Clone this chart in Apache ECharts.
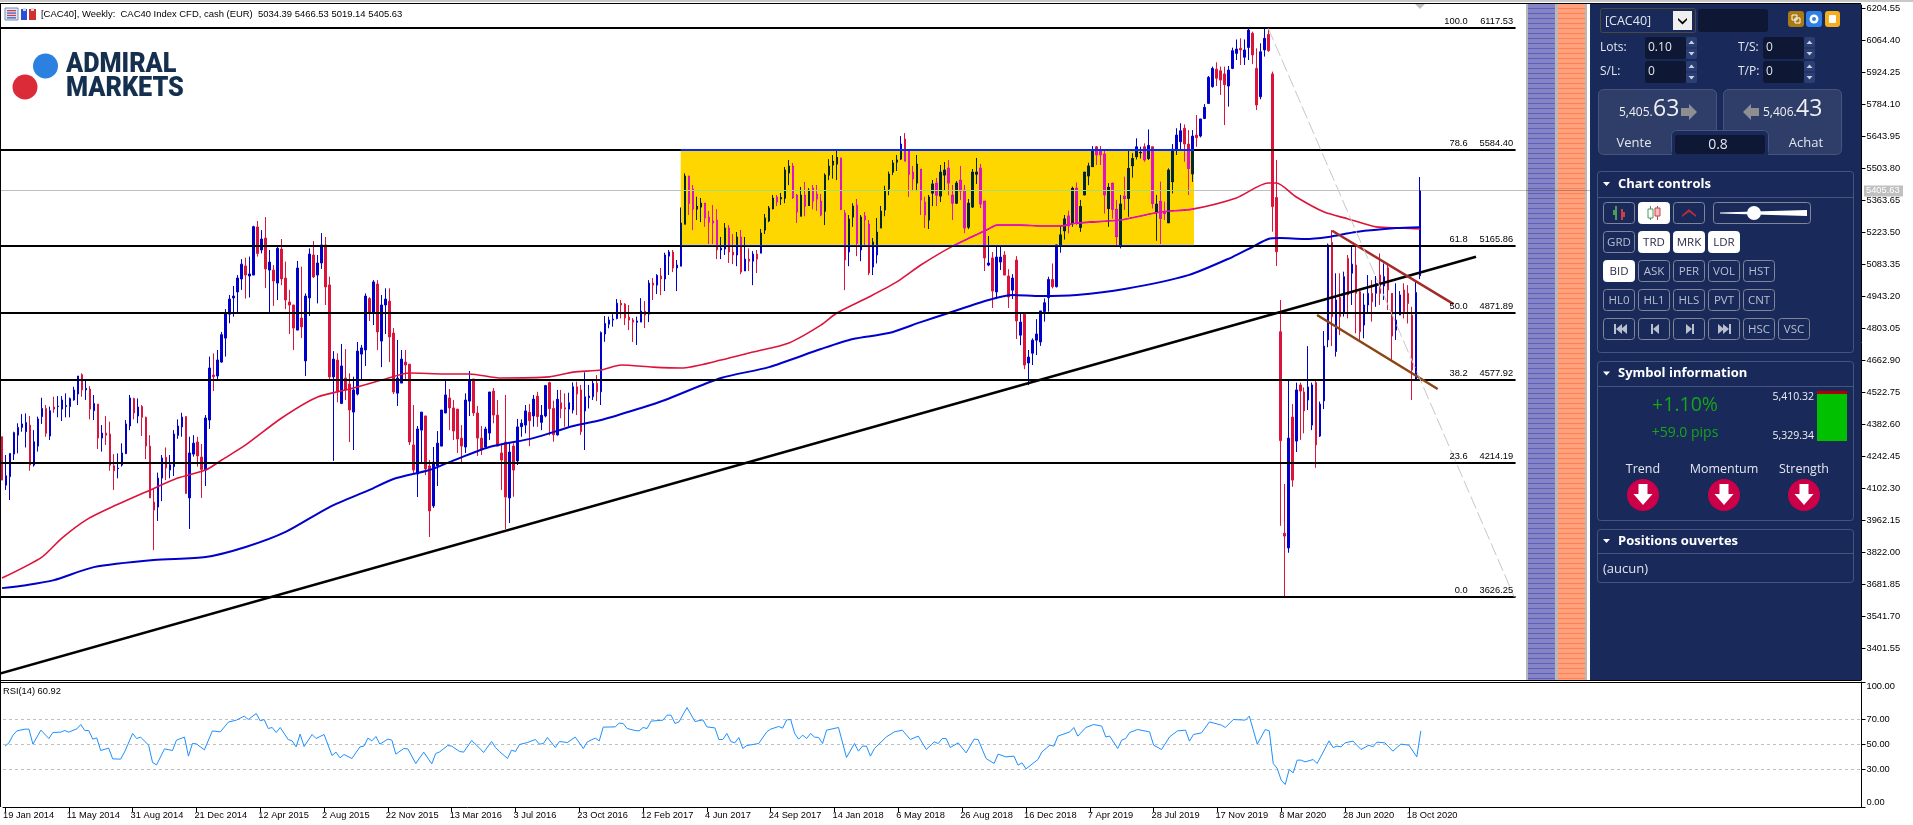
<!DOCTYPE html>
<html><head><meta charset="utf-8"><title>CAC40 Weekly</title>
<style>html,body{margin:0;padding:0;background:#fff;overflow:hidden}#c{width:1913px;height:825px}</style>
<script src="https://cdn.jsdelivr.net/npm/echarts@6/dist/echarts.min.js"></script></head>
<body><div id="c"></div>
<script>
// ---------- DATA ----------
const titleText = '[CAC40], Weekly:  CAC40 Index CFD, cash (EUR)  5034.39 5466.53 5019.14 5405.63';
const rsiTitle = 'RSI(14) 60.92';
const lastPrice = 5405.63;
const priceTicks = [3401.55,3541.70,3681.85,3822.00,3962.15,4102.30,4242.45,4382.60,4522.75,4662.90,4803.05,4943.20,5083.35,5223.50,5363.65,5503.80,5643.95,5784.10,5924.25,6064.40,6204.55];
const rsiTicks = [0,30,50,70,100];
const rsiLevels = [70,50,30];
const fibPct = ['100.0','78.6','61.8','50.0','38.2','23.6','0.0'];
const fibLevels = [6117.53,5584.40,5165.86,4871.89,4577.92,4214.19,3626.25];
const weekTickLabels = ['19 Jan 2014','11 May 2014','31 Aug 2014','21 Dec 2014','12 Apr 2015','2 Aug 2015','22 Nov 2015','13 Mar 2016','3 Jul 2016','23 Oct 2016','12 Feb 2017','4 Jun 2017','24 Sep 2017','14 Jan 2018','6 May 2018','26 Aug 2018','16 Dec 2018','7 Apr 2019','28 Jul 2019','17 Nov 2019','8 Mar 2020','28 Jun 2020','18 Oct 2020'];
// [open, close, low, high], one row per week
const candles = [
[4329,4139,4139,4329],[4117,4158,4096,4249],[4154,4256,4052,4256],[4253,4347,4227,4351],[4336,4370,4256,4388],[4370,4385,4351,4428],[4351,4391,4282,4431],[4380,4205,4180,4420],[4205,4307,4198,4358],[4288,4407,4264,4417],
[4417,4453,4385,4500],[4453,4344,4329,4468],[4332,4443,4315,4461],[4459,4450,4434,4504],[4461,4463,4414,4507],[4450,4490,4398,4507],[4461,4466,4414,4519],[4461,4496,4414,4501],[4490,4534,4487,4548],[4516,4595,4468,4595],
[4601,4534,4504,4607],[4534,4541,4490,4574],[4538,4450,4405,4551],[4443,4475,4402,4512],[4472,4323,4275,4472],[4323,4345,4264,4380],[4345,4336,4293,4420],[4341,4204,4180,4395],[4202,4180,4096,4253],[4189,4192,4147,4256],
[4205,4258,4198,4300],[4255,4385,4253,4402],[4376,4499,4358,4512],[4496,4433,4405,4500],[4420,4459,4388,4497],[4461,4414,4332,4468],[4414,4288,4231,4417],[4288,4061,4061,4336],[4043,4008,3833,4103],[4021,4148,3960,4172],
[4148,4236,4047,4249],[4239,4192,4139,4282],[4183,4206,4147,4249],[4198,4341,4157,4358],[4335,4376,4320,4405],[4372,4415,4329,4434],[4417,4081,4078,4420],[4061,4258,3925,4329],[4253,4301,4242,4336],[4306,4245,4198,4329],
[4240,4186,4061,4297],[4183,4411,4113,4424],[4402,4630,4363,4680],[4599,4592,4529,4694],[4595,4665,4580,4709],[4656,4776,4653,4788],[4761,4869,4680,4888],[4866,4932,4826,4950],[4937,4945,4855,4989],[4963,5024,4875,5037],
[5020,5085,4972,5107],[5077,5037,4934,5113],[5033,5042,4939,5118],[5037,5249,5037,5253],[5248,5132,5118,5274],[5147,5195,5132,5234],[5199,5064,4980,5291],[5059,5094,4875,5147],[5059,5011,4902,5081],[5002,5154,4928,5161],
[5151,5020,4993,5195],[5024,4928,4888,5096],[4919,4906,4779,4972],[4906,4805,4709,4906],[4796,5068,4796,5099],[4849,4810,4761,5074],[4661,4945,4595,4957],[4937,5129,4858,5154],[5125,5029,5024,5186],[5037,5090,4913,5125],
[5090,5169,5064,5221],[5169,4985,4906,5204],[4994,4591,4577,5030],[4591,4669,4223,4704],[4665,4529,4480,4694],[4475,4639,4472,4735],[4586,4534,4490,4713],[4560,4446,4306,4607],[4437,4534,4271,4592],[4516,4704,4510,4744],
[4691,4718,4577,4731],[4709,4945,4639,4957],[4934,4875,4836,4940],[4875,5007,4818,5015],[4998,4788,4709,5015],[4748,4906,4634,4950],[4906,4932,4779,4979],[4923,4766,4656,4979],[4783,4525,4516,4805],[4520,4586,4464,4753],
[4564,4669,4564,4709],[4656,4643,4573,4709],[4647,4306,4293,4647],[4293,4183,4166,4468],[4166,4363,4065,4376],[4358,4437,4218,4437],[4420,4188,4161,4420],[4201,4004,3890,4227],[4026,4218,4017,4284],[4201,4301,4113,4354],
[4288,4446,4288,4446],[4433,4512,4433,4573],[4499,4455,4358,4538],[4455,4354,4315,4490],[4450,4319,4258,4450],[4323,4288,4218,4380],[4284,4490,4258,4519],[4485,4577,4420,4617],[4582,4433,4420,4582],[4433,4323,4245,4464],
[4323,4271,4249,4376],[4284,4363,4280,4373],[4345,4525,4315,4525],[4529,4424,4388,4542],[4424,4288,4288,4490],[4258,4227,4096,4300],[4306,4065,3925,4512],[4061,4262,3951,4306],[4288,4183,4066,4300],[4223,4372,4205,4407],
[4373,4388,4329,4405],[4380,4442,4344,4468],[4436,4399,4288,4472],[4420,4494,4373,4512],[4507,4417,4373,4526],[4392,4423,4358,4468],[4420,4553,4414,4556],[4566,4452,4335,4570],[4453,4338,4307,4487],[4337,4493,4334,4534],
[4478,4452,4410,4534],[4456,4450,4373,4519],[4450,4478,4373,4522],[4446,4548,4431,4567],[4548,4516,4424,4570],[4534,4351,4337,4556],[4442,4504,4271,4611],[4500,4507,4453,4556],[4504,4563,4490,4577],[4563,4526,4485,4599],
[4526,4785,4468,4790],[4779,4825,4745,4858],[4822,4840,4804,4855],[4840,4844,4811,4866],[4847,4914,4843,4932],[4914,4906,4847,4928],[4910,4849,4818,4914],[4853,4840,4796,4906],[4840,4831,4744,4849],[4830,4836,4731,4855],
[4831,4879,4831,4936],[4879,4862,4805,4923],[4866,5002,4831,5015],[5002,4993,4928,5024],[4993,5036,4954,5041],[5033,5020,4949,5068],[5020,5125,4967,5135],[5120,5138,5037,5147],[5138,5068,5050,5147],[5068,5081,4967,5103],
[5076,5265,5076,5333],[5260,5471,5260,5482],[5471,5352,5300,5471],[5414,5326,5234,5431],[5326,5338,5278,5380],[5335,5352,5269,5374],[5352,5287,5249,5352],[5291,5269,5173,5317],[5274,5265,5173,5344],[5278,5147,5107,5325],
[5147,5155,5107,5204],[5151,5243,5125,5265],[5243,5138,5090,5255],[5138,5125,5085,5217],[5125,5204,5076,5225],[5204,5050,5041,5234],[5055,5107,5055,5204],[5107,5098,5055,5154],[5098,5129,4993,5142],[5129,5107,5046,5147],
[5133,5221,5133,5239],[5234,5287,5217,5304],[5274,5331,5269,5339],[5328,5374,5325,5387],[5379,5357,5339,5387],[5371,5376,5344,5396],[5374,5497,5352,5510],[5484,5514,5431,5541],[5514,5377,5371,5528],[5387,5313,5265,5392],
[5295,5387,5295,5423],[5387,5339,5295,5444],[5342,5409,5342,5417],[5418,5361,5325,5431],[5392,5370,5319,5431],[5361,5300,5295,5392],[5317,5475,5256,5482],[5475,5514,5453,5544],[5519,5535,5460,5563],[5523,5552,5453,5585],
[5550,5325,5322,5550],[5309,5103,4971,5322],[5138,5282,5076,5300],[5291,5339,5249,5351],[5344,5176,5120,5370],[5147,5291,5098,5300],[5296,5278,5169,5313],[5260,5046,5037,5278],[5072,5182,5037,5199],[5125,5225,5088,5287],
[5243,5317,5243,5339],[5322,5409,5295,5428],[5414,5479,5387,5490],[5488,5528,5475,5541],[5532,5541,5493,5563],[5545,5611,5541,5646],[5633,5536,5536,5659],[5580,5479,5380,5585],[5488,5458,5405,5515],[5440,5523,5405,5563],
[5501,5366,5300,5501],[5357,5300,5244,5380],[5278,5379,5239,5387],[5396,5436,5339,5453],[5440,5387,5339,5462],[5383,5488,5357,5519],[5475,5497,5409,5532],[5506,5440,5387,5541],[5387,5352,5278,5431],[5352,5440,5348,5449],
[5453,5405,5366,5515],[5409,5243,5221,5431],[5247,5352,5239,5370],[5335,5488,5331,5501],[5479,5488,5436,5550],[5506,5348,5331,5523],[5361,5112,5055,5361],[5081,5090,5076,5208],[5112,4967,4893,5138],[4963,5116,4932,5164],
[5094,5116,5059,5164],[5125,5037,5037,5142],[5033,4941,4893,5063],[4971,5024,4932,5041],[5103,4836,4757,5120],[4774,4831,4730,4869],[4866,4643,4625,4866],[4652,4678,4555,4709],[4695,4752,4643,4760],[4752,4779,4687,4844],
[4744,4880,4727,4880],[4877,4916,4833,4935],[4938,5018,4877,5030],[5018,4986,4979,5088],[4986,5169,4983,5169],[5169,5213,5135,5249],[5231,5283,5193,5300],[5296,5252,5220,5319],[5266,5417,5249,5424],[5417,5264,5256,5442],
[5246,5337,5227,5366],[5388,5488,5388,5488],[5471,5515,5431,5529],[5512,5585,5512,5602],[5599,5563,5519,5602],[5585,5563,5519,5602],[5567,5388,5307,5585],[5329,5421,5249,5439],[5439,5325,5285,5442],[5325,5205,5161,5366],
[5170,5348,5154,5388],[5383,5372,5322,5468],[5373,5504,5293,5585],[5516,5547,5464,5570],[5556,5599,5544,5636],[5572,5574,5548,5599],[5599,5541,5534,5614],[5548,5605,5541,5675],[5599,5351,5329,5599],[5315,5348,5188,5388],
[5360,5285,5173,5446],[5315,5307,5278,5358],[5266,5497,5266,5504],[5446,5588,5395,5611],[5585,5650,5563,5680],[5621,5669,5585,5702],[5680,5611,5534,5697],[5611,5504,5388,5672],[5480,5646,5446,5672],[5650,5639,5599,5738],
[5646,5721,5640,5721],[5723,5772,5720,5786],[5789,5903,5786,5909],[5862,5942,5858,5950],[5939,5899,5865,5969],[5932,5891,5826,5950],[5918,5871,5694,5950],[5865,5935,5775,5953],[5942,6020,5939,6033],[6008,6027,5979,6069],
[6030,6023,5957,6074],[5991,6023,5957,6069],[6034,6110,5979,6119],[6096,6001,5961,6103],[5942,5782,5760,6030],[5818,6015,5807,6052],[6023,6074,5994,6119],[6091,6020,6015,6118],[5918,5337,5227,5928],[5377,5139,5077,5541],
[4789,4312,3939,4928],[3906,3894,3631,4122],[3842,4323,3821,4577],[4415,4139,4110,4472],[4310,4534,4262,4566],[4556,4529,4315,4566],[4525,4442,4344,4545],[4490,4547,4446,4726],[4380,4556,4358,4566],[4566,4293,4193,4575],
[4332,4472,4328,4483],[4486,4726,4450,4792],[4753,5169,4721,5175],[5180,4855,4726,5234],[4702,4928,4680,5045],[4939,4855,4774,5045],[4869,5030,4855,5052],[5110,4950,4847,5125],[5045,5085,4906,5164],[5081,4957,4782,5169],
[4964,4789,4753,4972],[4818,4906,4760,4957],[4906,4957,4869,5037],[4957,4920,4833,5015],[4957,5001,4898,5033],[5037,4957,4906,5132],[4989,5030,4928,5088],[5069,4972,4884,5088],[4957,4770,4658,4957],[4796,4840,4753,5001],
[4862,4950,4862,4967],[4972,4877,4847,5001],[4957,4913,4825,4993],[4862,4621,4490,4898],[4582,4961,4577,5008],[5034.39,5405.63,5019.14,5466.53]
];
// [week index, price]
const maRed = [[0,3710],[10,3802],[15,3885],[21,3964],[27,4017],[36,4087],[44,4148],[51,4183],[55,4227],[61,4293],[70,4411],[79,4503],[87,4538],[96,4582],[102,4608],[111,4604],[117,4604],[125,4586],[137,4591],[143,4612],[150,4621],[155,4643],[163,4634],[170,4630],[180,4665],[188,4700],[197,4740],[205,4818],[209,4871],[217,4941],[224,5007],[230,5081],[238,5164],[247,5239],[249,5256],[255,5256],[260,5252],[265,5252],[269,5265],[280,5278],[290,5313],[298,5326],[309,5375],[317,5440],[319,5440],[324,5379],[331,5313],[337,5283],[344,5248],[350,5243],[355,5239]];
const maBlue = [[0,3666],[6,3679],[13,3701],[23,3758],[38,3789],[51,3802],[61,3846],[71,3912],[82,4021],[92,4096],[98,4144],[107,4183],[112,4218],[122,4284],[133,4323],[143,4376],[150,4402],[160,4455],[166,4490],[180,4586],[192,4634],[205,4713],[213,4757],[222,4783],[230,4831],[237,4871],[247,4928],[253,4950],[260,4945],[269,4950],[281,4976],[297,5037],[308,5116],[313,5160],[317,5195],[320,5199],[326,5195],[332,5204],[339,5226],[349,5243],[355,5247]];
const rsi14 = [[0,48.7],[1,51.3],[2,57.5],[3,60.9],[5,62.3],[6,62.3],[7,50.3],[9,61.5],[11,54.8],[12,59.6],[14,59.9],[15,61.2],[16,59.9],[18,62.5],[19,66],[20,61.2],[21,61.2],[22,54.3],[23,55.3],[24,45.2],[26,47.1],[27,38.5],[29,38.3],[30,44.1],[32,58.8],[33,54.8],[34,55.9],[36,49.5],[37,35.6],[38,33.7],[40,46.5],[42,45.2],[43,53.5],[45,55.9],[46,40.7],[47,50.8],[48,50.5],[50,45.7],[52,60.9],[54,60.1],[56,67.9],[58,69.5],[60,72.7],[61,70],[63,74.8],[64,68.9],[65,70],[66,62.8],[67,63.6],[68,59.6],[69,63.6],[71,54],[72,52.9],[73,48.1],[74,58.3],[75,48.4],[77,58],[78,54.8],[80,58],[82,41.2],[83,43.9],[84,39.3],[85,42],[87,38.8],[89,48.1],[90,48.7],[91,55.1],[92,52.9],[93,56.4],[94,50.3],[96,54.3],[97,53.5],[98,42.3],[100,46.8],[101,46.5],[103,34.8],[105,43.9],[107,34.5],[108,42.8],[109,44.1],[111,49.2],[112,48.7],[114,44.4],[115,43.9],[117,53.2],[119,47.1],[120,43.6],[122,52.4],[123,47.6],[124,44.4],[126,38.8],[127,45.5],[128,44.4],[129,50],[131,51.6],[133,54],[134,50.3],[135,50.8],[136,55.6],[138,47.6],[139,52.4],[141,51.6],[143,55.9],[145,46.8],[146,52.1],[148,55.1],[149,52.9],[150,63.9],[153,64.1],[154,67.1],[155,66.8],[156,62.8],[158,61.2],[159,60.9],[160,63.6],[161,62.8],[162,68.7],[165,69.5],[166,73.5],[167,73.5],[168,66.8],[169,68.1],[171,79.6],[173,68.4],[175,69.7],[176,64.1],[178,63.3],[179,54],[180,54],[181,58.8],[182,52.4],[183,51.3],[184,55.6],[185,46.8],[186,49.2],[189,50.8],[191,60.1],[192,62.3],[194,64.4],[195,63.1],[196,69.7],[197,70],[198,58.8],[199,54.3],[200,57.5],[201,54.8],[202,58.8],[203,55.9],[204,55.6],[205,50.8],[206,61.5],[209,63.6],[211,39.6],[213,50.8],[214,44.7],[215,48.7],[216,48.7],[217,40.7],[218,46.8],[221,56.1],[223,60.1],[225,61.5],[227,54],[229,56.7],[231,46],[233,52.1],[234,50.8],[235,54.8],[236,54.8],[237,47.6],[239,51.3],[241,43.3],[243,54.3],[244,54],[246,38.8],[248,34.8],[249,42.3],[251,40.1],[253,40.7],[254,33.5],[255,35.3],[256,30.5],[259,38],[260,44.1],[262,49.5],[263,48.7],[264,56.7],[267,60.1],[268,63.6],[269,56.7],[271,63.6],[273,66],[275,64.7],[276,56.1],[277,56.7],[279,46.8],[280,53.5],[281,54.8],[282,59.6],[284,62],[287,60.1],[288,49.5],[290,46],[292,56.1],[294,60.9],[296,61.5],[297,52.7],[298,58],[300,59.3],[302,68.1],[305,65.5],[306,63.6],[308,70],[311,69.5],[312,72.7],[314,50.3],[316,62],[317,60.9],[318,34.8],[319,30.8],[320,21.5],[321,18],[322,30],[323,27.3],[324,37.5],[325,37.5],[326,36.1],[328,38],[329,34.8],[332,52.9],[333,47.6],[334,48.7],[335,48.1],[336,51.3],[338,52.7],[340,46],[342,49.5],[343,48.1],[344,51.9],[346,51.3],[348,44.7],[350,50.3],[352,49.5],[354,40.1],[355,60.92]];
// drawn objects: [week, price] end points
const trendBlack = [[-0.5,3291.6],[369,5117.5]];
const channelUpper = [[333,5231],[363.4,4910]];
const channelLower = [[329.2,4862],[359.4,4538]];
const fibDiagonal = [[317,6117.53],[378.6,3626.25]];
const fibEndWeek = 378.9;
const zoneWeeks = [169.9,298.4];
const zonePrices = [5589,5166];

// ---------- LAYOUT ----------
const WEEK_SLOTS = 466;
const FONT = '"Liberation Sans",Arial,sans-serif';
const UI = '"Open Sans",sans-serif';
const TICK_PX = 9.3;
const tickAt = {}; weekTickLabels.forEach((t,k)=>{tickAt[k*16]=t;});
const slots = Array.from({length:WEEK_SLOTS},(_,i)=>'w'+i);
const axisFont = {fontFamily:FONT,fontSize:TICK_PX,color:'#000'};
const hiddenX = g => ({type:'value',gridIndex:g,min:-0.5,max:WEEK_SLOTS-0.5,show:false});
const seg = (name,data,color,width,z,extra) => Object.assign({type:'line',name,xAxisIndex:1,yAxisIndex:0,data,symbol:'none',silent:true,z,
  lineStyle:{color,width},clip:true},extra||{});
// a horizontal level, snapped to whole pixels so it stays crisp
const level = (name,rows,fill,thick,z) => ({type:'custom',name,xAxisIndex:1,yAxisIndex:0,z,silent:true,clip:false,data:rows,
  renderItem:(p,api)=>{const a=api.coord([api.value(0),api.value(2)]),b=api.coord([api.value(1),api.value(2)]);
    const y=thick%2?Math.floor(a[1]):Math.round(a[1])-thick/2;
    return {type:'rect',shape:{x:a[0],y,width:b[0]-a[0],height:thick},style:{fill}};}});

// ---------- PANEL GRAPHICS ----------
const G = [];
const Z = 100;
const rect=(x,y,w,h,fill,stroke,r,z)=>G.push({type:'rect',z:z===undefined?Z:z,silent:true,shape:{x,y,width:w,height:h,r:r||0},style:{fill:fill||'none',stroke:stroke||'none',lineWidth:stroke?1:0}});
const txt=(s,x,y,font,fill,align,z,sx)=>G.push({type:'text',z:z===undefined?Z:z,silent:true,x,y,scaleX:sx||1,style:{text:s,font,fill:fill||'#fff',align:align||'left',verticalAlign:'middle'}});
const poly=(pts,fill,z)=>G.push({type:'polygon',z:z===undefined?Z:z,silent:true,shape:{points:pts},style:{fill}});
const circ=(cx,cy,r,fill)=>G.push({type:'circle',z:Z,silent:true,shape:{cx,cy,r},style:{fill}});
const NAVY='#19295a', DARK='#0e1733', EDGE='#46557f';
// frame
rect(0,0,1913,2,'#c8c8c8',null,0,Z);rect(0,3,1861,1,'#000',null,0,Z);
rect(0,4,1,803,'#000',null,0,Z);
rect(0,680,1861,1,'#000',null,0,Z);rect(0,682,1861,1,'#000',null,0,Z);
poly([[1415,4],[1425,4],[1420,9]],'#c0c0c0',Z);
// title icons
rect(5,8,13,12,'#dfe6f5','#7a8fb5');for(let k=0;k<4;k++){rect(7,10+k*2.4,9,1.3,k%2?'#3a5fc0':'#d84040');}
rect(21,9,6,11,'#2a50d8');rect(29,9,7,11,'#d03030');rect(23,8,3,3,'#cfd8f0');rect(31,8,3,3,'#f0d0d0');
txt(titleText,41,14,'9.45px '+FONT,'#000');
// logo
circ(45.5,66,12.5,'#2b80e0');circ(25,87,12.5,'#dc2b38');
txt('ADMIRAL',66,65,'900 28px Roboto,sans-serif','#15304f',null,Z,0.9);
txt('MARKETS',66,89,'900 28px Roboto,sans-serif','#15304f',null,Z,0.9);
// colour bands
rect(1526,4,61,676,'#b8b8b8',null,0,0);
rect(1528,4,27,676,'#8585c5',null,0,0);rect(1558,4,27,676,'#ffa17c',null,0,0);
for(let y=8;y<680;y+=5){rect(1528,y,27,1,'#5e5ebc',null,0,0);rect(1558,y,27,1,'#ff7f52',null,0,0);}
// navy panel
rect(1590,4,271,676,NAVY);
rect(1600.5,8.5,95,24,'none','#4a4a40',2);txt('[CAC40]',1605,21,'12.5px '+UI,'#e4e6ee');
rect(1673,11,19,19,'#efefef');poly([[1678,18],[1682.5,22],[1687,18],[1687,20],[1682.5,24.5],[1678,20]],'#000');
rect(1698,9,70,23,DARK,null,3);
rect(1788,11,16,16,'#a97b12',null,3);rect(1792,15,5,5,'none','#fff');rect(1795,18,5,5,'none','#fff');
rect(1806,11,16,16,'#2e80e4',null,3);circ(1814,19,4.5,'#fff');circ(1814,19,2,'#2e80e4');
rect(1825,11,15,16,'#f4ae1e',null,3);rect(1829,15,7,8,'#fff',null,1);
const inputRow=(lab,labX,boxX,val,y)=>{
  txt(lab,labX,y+11,'12px '+UI,'#e4e6ee');
  rect(boxX,y,41,22,DARK,null,3);txt(val,boxX+3,y+11,'12px '+UI,'#e4e6ee');
  rect(boxX+41,y,11,22,'#2c3f75',null,2);rect(boxX+41,y+10.5,11,1,NAVY);
  poly([[boxX+43.5,y+7],[boxX+46.5,y+3.5],[boxX+49.5,y+7]],'#c9d0e0');poly([[boxX+43.5,y+15],[boxX+49.5,y+15],[boxX+46.5,y+18.5]],'#c9d0e0');
};
inputRow('Lots:',1600,1645,'0.10',37);inputRow('T/S:',1738,1763,'0',37);
inputRow('S/L:',1600,1645,'0',61);inputRow('T/P:',1738,1763,'0',61);
// quote boxes
rect(1598.5,89.5,118,65,'#2f3e68',EDGE,5);rect(1723.5,89.5,118,65,'#2f3e68',EDGE,5);
rect(1671.5,130.5,97,25,NAVY,EDGE,5);rect(1672,135,96,21,NAVY);
rect(1675,135,90,19,DARK,null,3);txt('0.8',1718,145,'14px '+UI,'#e4e6ee','center');
txt('5,405.',1619,113,'12px '+UI,'#f0f0f4');txt('63',1653,109,'23px '+UI,'#f0f0f4');
txt('5,406.',1763,113,'12px '+UI,'#f0f0f4');txt('43',1796,109,'23px '+UI,'#f0f0f4');
poly([[1681,108],[1689,108],[1689,104],[1697,112],[1689,120],[1689,116],[1681,116]],'#8d8f92');
poly([[1759,108],[1751,108],[1751,104],[1743,112],[1751,120],[1751,116],[1759,116]],'#8d8f92');
txt('Vente',1634,143.5,'13px '+UI,'#e4e6ee','center');txt('Achat',1806,143.5,'13px '+UI,'#e4e6ee','center');
// section boxes
const section=(y,h,title,sepY)=>{rect(1597.5,y+0.5,256,h,'none',EDGE,3);rect(1598,sepY,255,1,EDGE);
  poly([[1603,y+(sepY-y)/2-2],[1610,y+(sepY-y)/2-2],[1606.5,y+(sepY-y)/2+2]],'#fff');
  txt(title,1618,y+(sepY-y)/2,'bold 13px '+UI,'#fff');};
section(171,181,'Chart controls',197);section(361,159,'Symbol information',386);section(529,53,'Positions ouvertes',553);
// buttons
const cols=[1603,1638,1673,1708,1743,1778];
const btn=(c,y,label,on)=>{rect(cols[c]+0.5,y+0.5,31,21,on?'#fff':NAVY,on?'#fff':'#7f869a',3);
  if(label)txt(label,cols[c]+16,y+11.5,'11.5px '+UI,on?'#2a2a44':'#b9bfce','center');};
btn(0,202,'',false);btn(1,202,'',true);btn(2,202,'',false);
rect(1615,206,2,14,'#4f9a5a');rect(1621,209,2,11,'#c9404a');rect(1613,210,4,5,'#4f9a5a');rect(1621,212,4,5,'#c9404a');
rect(1650,206,1,14,'#4f9a5a');rect(1648,209,5,9,'#fff','#4f9a5a');rect(1657,206,1,14,'#c9404a');rect(1655,208,5,8,'#f3c0c0','#c9404a');
poly([[1682,215],[1689,209],[1696,215],[1696,217],[1689,212],[1682,217]],'#b03038');
rect(1713.5,202.5,97,21,NAVY,'#7f869a',3);
poly([[1720,212.5],[1807,210],[1807,216],[1720,213.5]],'#fff');circ(1754,213,7,'#fff');
btn(0,231,'GRD',false);btn(1,231,'TRD',true);btn(2,231,'MRK',true);btn(3,231,'LDR',true);
['BID','ASK','PER','VOL','HST'].forEach((s,i)=>btn(i,260,s,i===0));
['HL0','HL1','HLS','PVT','CNT'].forEach((s,i)=>btn(i,289,s,false));
[0,1,2,3].forEach(i=>btn(i,318,'',false));btn(4,318,'HSC',false);btn(5,318,'VSC',false);
const I='#b9bfce';
const backT=(x)=>poly([[x,329],[x+6,324],[x+6,334]],I),fwdT=(x)=>poly([[x,324],[x,334],[x+6,329]],I);
rect(1614,324,2,10,I);backT(1616);backT(1621);
rect(1651,324,2,10,I);backT(1653);
fwdT(1686);rect(1692,324,2,10,I);
fwdT(1718);fwdT(1723);rect(1729,324,2,10,I);
// symbol info
txt('+1.10%',1685,405,'19.5px '+UI,'#16a516','center');txt('+59.0 pips',1685,433,'14px '+UI,'#16a516','center');
txt('5,410.32',1814,397,'10.5px '+UI,'#f0f0f4','right');txt('5,329.34',1814,436,'10.5px '+UI,'#f0f0f4','right');
rect(1817,391,30,50,'#00c000');rect(1817,391,30,3,'#b00000');
[['Trend',1643],['Momentum',1724],['Strength',1804]].forEach(([s,x])=>{
  txt(s,x,469,'12.5px '+UI,'#e4e6ee','center');circ(x,495,16,'#cc0048');
  poly([[x-4.5,484],[x+4.5,484],[x+4.5,494],[x+9.5,494],[x,505],[x-9.5,494],[x-4.5,494]],'#fff');});
txt('(aucun)',1603,569,'13px '+UI,'#e4e6ee');
// RSI caption
txt(rsiTitle,3,691.5,TICK_PX+'px '+FONT,'#000');

// ---------- CHART ----------
const chart = echarts.init(document.getElementById('c'),null,{renderer:'canvas',width:1913,height:825});
chart.setOption({
  animation:false,backgroundColor:'#fff',
  grid:[{left:-2.5,top:5,width:1864,height:675},{left:-2.5,top:682,width:1864,height:125}],
  xAxis:[
    {type:'category',gridIndex:0,data:slots,show:false,boundaryGap:true},
    hiddenX(0),
    {type:'category',gridIndex:1,data:slots,boundaryGap:true,
      axisLine:{show:true,onZero:false,lineStyle:{color:'#000',width:1}},
      axisTick:{show:true,length:5,alignWithLabel:true,interval:(i)=>tickAt[i]!==undefined,lineStyle:{color:'#000'}},
      axisLabel:Object.assign({interval:(i)=>tickAt[i]!==undefined,formatter:(v,i)=>tickAt[i]||'',align:'left',margin:4,padding:[0,0,0,-2],hideOverlap:false},axisFont)},
    hiddenX(1)
  ],
  yAxis:[
    {type:'value',gridIndex:0,position:'right',min:3263.6,max:6219.9,splitLine:{show:false},
     axisLine:{show:true,onZero:false,lineStyle:{color:'#000'}},
     axisTick:{show:true,length:4,customValues:priceTicks,lineStyle:{color:'#000'}},
     axisLabel:Object.assign({customValues:priceTicks,formatter:v=>v.toFixed(2),margin:5},axisFont)},
    {type:'value',gridIndex:1,position:'right',min:0,max:100,splitLine:{show:false},
     axisLine:{show:true,onZero:false,lineStyle:{color:'#000'}},
     axisTick:{show:true,length:4,customValues:rsiTicks,lineStyle:{color:'#000'}},
     axisLabel:Object.assign({customValues:rsiTicks,formatter:v=>v.toFixed(2),margin:5,verticalAlignMaxLabel:'top',verticalAlignMinLabel:'bottom'},axisFont)}
  ],
  graphic:{elements:G},
  series:[
    level('Last price',[[-0.5,465.5,lastPrice]],'rgba(0,0,0,0.25)',1,1),
    {type:'candlestick',name:'CAC40',xAxisIndex:0,yAxisIndex:0,data:candles,barWidth:2,z:2,silent:true,
      itemStyle:{color:'#0000cd',color0:'#dc143c',borderColor:'#0000cd',borderColor0:'#dc143c',borderWidth:1}},
    seg('MA red',maRed,'#dc143c',1.6,3,{smooth:0.25}),
    seg('MA blue',maBlue,'#0000cd',2,3,{smooth:0.25}),
    level('Fib levels',fibLevels.map(v=>[-0.5,fibEndWeek,v]),'#000',2,4),
    {type:'custom',name:'Zone',xAxisIndex:1,yAxisIndex:0,z:6,silent:true,clip:false,blendMode:'difference',
      data:[[zoneWeeks[0],zonePrices[0],zoneWeeks[1],zonePrices[1]]],
      renderItem:(p,api)=>{const a=api.coord([api.value(0),api.value(1)]),b=api.coord([api.value(2),api.value(3)]);
        return {type:'rect',shape:{x:a[0],y:a[1],width:b[0]-a[0],height:b[1]-a[1]},style:{fill:'#0028ff'}};}},
    level('Last price in zone',[[zoneWeeks[0],zoneWeeks[1],lastPrice]],'#a9dc6e',1,7),
    seg('Trend',trendBlack,'#000',2.5,8),
    seg('Channel upper',channelUpper,'#a52a2a',2.5,8),
    seg('Channel lower',channelLower,'#8b4513',2.5,8),
    Object.assign(seg('Fib diagonal',fibDiagonal,'#c8c8c8',1,8),{lineStyle:{color:'#c8c8c8',width:1,type:[13,4]}}),
    {type:'custom',name:'Fib labels',xAxisIndex:1,yAxisIndex:0,z:9,silent:true,clip:false,
      data:fibLevels.map((v,k)=>[fibEndWeek,v,k]),
      renderItem:(p,api)=>{const c=api.coord([api.value(0),api.value(1)]),k=api.value(2);
        const t=(s,dx)=>({type:'text',style:{text:s,x:c[0]+dx,y:c[1]-6.5,align:'right',verticalAlign:'middle',font:TICK_PX+'px '+FONT,fill:'#000'}});
        return {type:'group',children:[t(fibPct[k],-48),t(fibLevels[k].toFixed(2),-2.5)]};}},
    {type:'custom',name:'Price tag',xAxisIndex:1,yAxisIndex:0,z:9,silent:true,clip:false,
      data:[[0,lastPrice]],
      renderItem:(p,api)=>{const c=api.coord([0,api.value(1)]);
        return {type:'group',children:[
          {type:'rect',shape:{x:1864,y:c[1]-5.5,width:39,height:11},style:{fill:'#c0c0c0'}},
          {type:'text',style:{text:lastPrice.toFixed(2),x:1866,y:c[1],verticalAlign:'middle',font:TICK_PX+'px '+FONT,fill:'#fff'}}]};}},
    {type:'line',name:'RSI(14)',xAxisIndex:3,yAxisIndex:1,data:rsi14,symbol:'none',silent:true,z:3,
      lineStyle:{color:'#1e90ff',width:1},
      markLine:{silent:true,symbol:'none',label:{show:false},animation:false,z:2,
        lineStyle:{color:'#c0c0c0',type:[3,3],width:1},data:rsiLevels.map(v=>({yAxis:v}))}}
  ]
});
</script></body></html>
